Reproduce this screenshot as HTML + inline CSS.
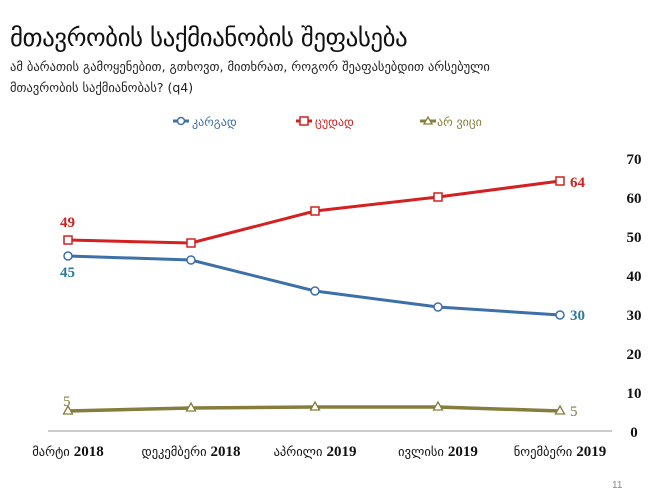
<!DOCTYPE html>
<html><head><meta charset="utf-8"><style>
body{margin:0;width:668px;height:500px;background:#fff;overflow:hidden;position:relative;font-family:"Liberation Serif","DejaVu Sans",serif}
.t{position:absolute;white-space:nowrap}
</style></head><body>
<div class="t" style="left:10px;top:23px;font-size:25px;color:#111;font-family:'DejaVu Sans',sans-serif;letter-spacing:-0.5px">მთავრობის საქმიანობის შეფასება</div>
<div class="t" style="left:10px;top:56px;font-size:12.5px;color:#222;font-family:'DejaVu Sans',sans-serif;line-height:21px">ამ ბარათის გამოყენებით, გთხოვთ, მითხრათ, როგორ შეაფასებდით არსებული<br>მთავრობის საქმიანობას? (q4)</div>
<svg width="668" height="500" style="position:absolute;left:0;top:0" font-family="Liberation Serif, DejaVu Sans, serif">
<g font-size="12" font-family="DejaVu Sans, sans-serif">
<line x1="173" y1="121" x2="189" y2="121" stroke="#3d6fa8" stroke-width="3"/><circle cx="181" cy="121" r="3.5" fill="#fff" stroke="#3d6fa8" stroke-width="1.5"/><text x="192" y="126" fill="#3d6fa8">კარგად</text>
<line x1="296" y1="121" x2="312" y2="121" stroke="#d42020" stroke-width="3"/><rect x="300" y="117" width="8" height="8" fill="#fff" stroke="#d42020" stroke-width="1.5"/><text x="315" y="126" fill="#d42020">ცუდად</text>
<line x1="420" y1="121" x2="436" y2="121" stroke="#857d3c" stroke-width="3"/><path d="M428 117 L432 124 L424 124Z" fill="#fff" stroke="#857d3c" stroke-width="1.3"/><text x="437" y="126" fill="#857d3c">არ ვიცი</text>
</g>
<line x1="48" y1="431" x2="612" y2="431" stroke="#bbb" stroke-width="1.5"/>
<g font-size="15" font-weight="bold" fill="#111" text-anchor="middle">
<text x="634" y="164">70</text><text x="634" y="203">60</text><text x="634" y="242">50</text><text x="634" y="281">40</text><text x="634" y="320">30</text><text x="634" y="359">20</text><text x="634" y="398">10</text><text x="634" y="437">0</text>
</g>
<polyline points="68,240 191,243 315,211 438,197 560,181" fill="none" stroke="#d42020" stroke-width="3"/>
<polyline points="68,256 191,260 315,291 438,307 560,315" fill="none" stroke="#3d6fa8" stroke-width="3"/>
<polyline points="68,411 191,408 315,407 438,407 560,411" fill="none" stroke="#857d3c" stroke-width="3.5"/>
<g fill="#fff" stroke="#d42020" stroke-width="1.5"><rect x="64" y="236" width="8" height="8"/><rect x="187" y="239" width="8" height="8"/><rect x="311" y="207" width="8" height="8"/><rect x="434" y="193" width="8" height="8"/><rect x="556" y="177" width="8" height="8"/></g>
<g fill="#fff" stroke="#3d6fa8" stroke-width="1.5"><circle cx="68" cy="256" r="4"/><circle cx="191" cy="260" r="4"/><circle cx="315" cy="291" r="4"/><circle cx="438" cy="307" r="4"/><circle cx="560" cy="315" r="4"/></g>
<g fill="#fff" stroke="#857d3c" stroke-width="1.3"><path d="M68 406 L72.5 414 L63.5 414Z"/><path d="M191 403 L195.5 411 L186.5 411Z"/><path d="M315 402 L319.5 410 L310.5 410Z"/><path d="M438 402 L442.5 410 L433.5 410Z"/><path d="M560 406 L564.5 414 L555.5 414Z"/></g>
<g font-size="15" font-weight="bold">
<text x="60" y="227" fill="#d42020">49</text><text x="570" y="187" fill="#d42020">64</text>
<text x="60" y="277" fill="#2d7a9a">45</text><text x="570" y="320" fill="#2d7a9a">30</text>
</g>
<g font-size="15" fill="#857d3c"><text x="63" y="406">5</text><text x="570" y="416">5</text></g>
<g fill="#111" text-anchor="middle" font-family="DejaVu Sans, sans-serif" font-size="12.5">
<text x="68" y="456">მარტი <tspan font-family="Liberation Serif" font-weight="bold" font-size="15">2018</tspan></text>
<text x="191" y="456">დეკემბერი <tspan font-family="Liberation Serif" font-weight="bold" font-size="15">2018</tspan></text>
<text x="315" y="456">აპრილი <tspan font-family="Liberation Serif" font-weight="bold" font-size="15">2019</tspan></text>
<text x="438" y="456">ივლისი <tspan font-family="Liberation Serif" font-weight="bold" font-size="15">2019</tspan></text>
<text x="560" y="456">ნოემბერი <tspan font-family="Liberation Serif" font-weight="bold" font-size="15">2019</tspan></text>
</g>
<text x="612" y="488" font-size="10" fill="#888" font-family="Liberation Sans, sans-serif">11</text>
</svg>
</body></html>
